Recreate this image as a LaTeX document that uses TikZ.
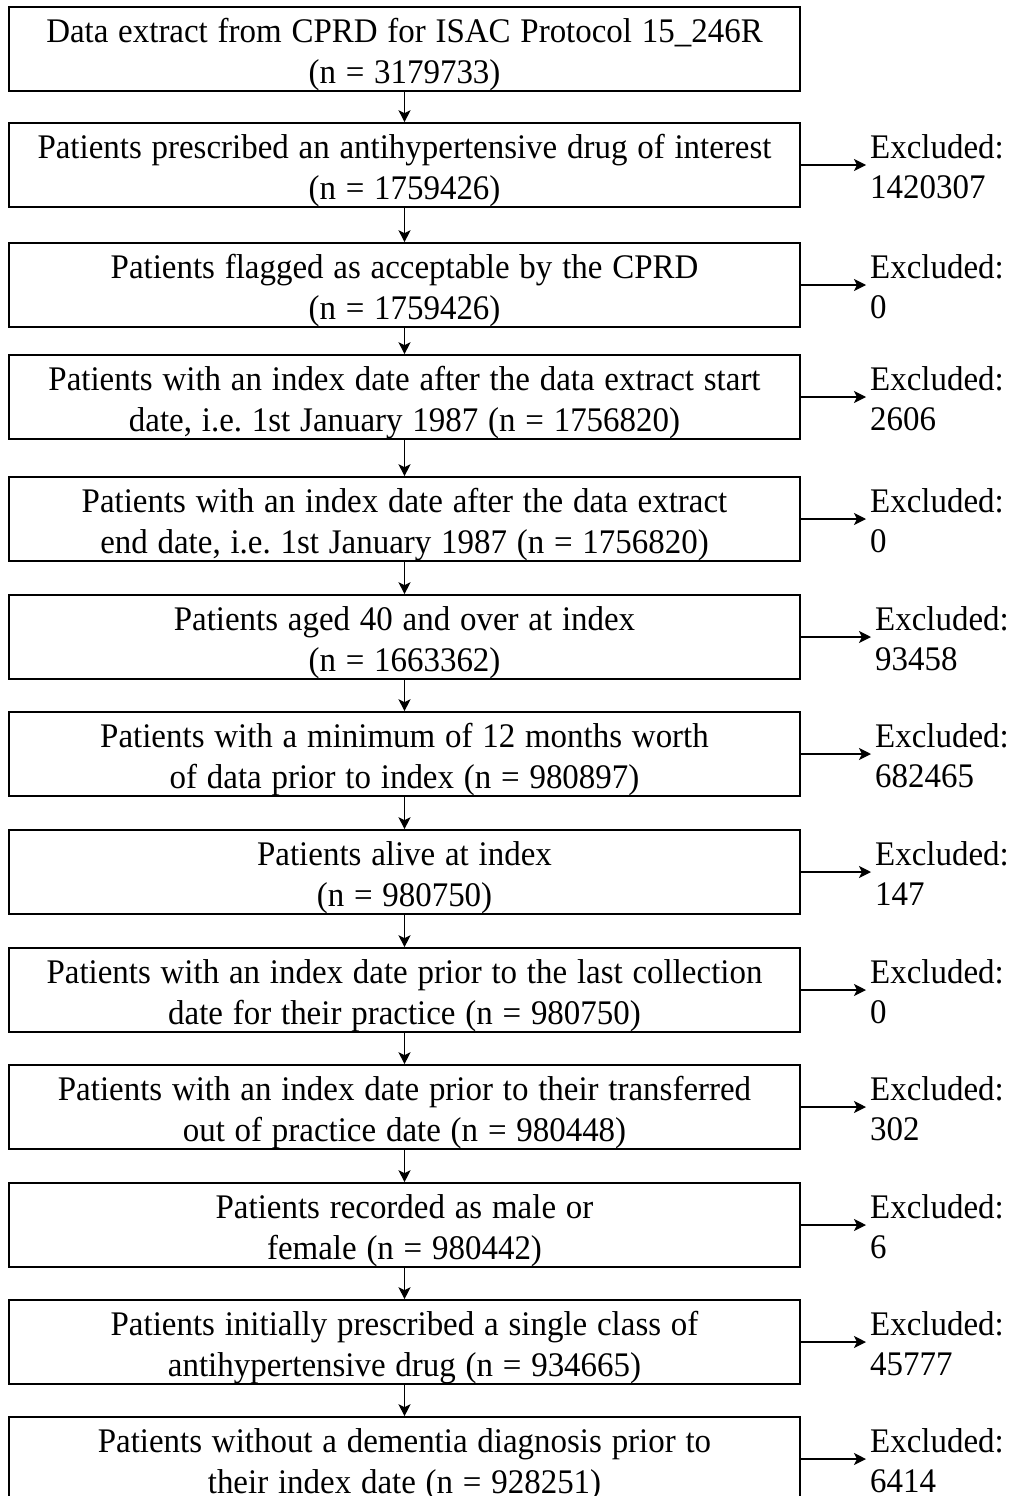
\documentclass[tikz,border=0pt]{standalone}
\usepackage{fontspec}
\setmainfont{Liberation Serif}[FakeStretch=0.955]
\frenchspacing
\usetikzlibrary{arrows.meta}

\tikzset{
  stagebox/.style={draw, line width=1.6pt, minimum width=791pt, minimum height=84pt,
    inner sep=0pt},
  stagetext/.style={inner sep=0pt, text width=785pt, align=flush center, yshift=-6pt,
    font=\fontsize{34.5}{41}\selectfont,
    execute at begin node={\spaceskip=9.8pt\relax}},
  exclnote/.style={anchor=west, inner sep=0pt, align=left,
    font=\fontsize{34.5}{40}\selectfont},
  flow/.style={line width=1.4pt, -{Stealth[length=12pt,width=12pt,inset=3pt]}}
}

\begin{document}
\begin{tikzpicture}[x=1pt,y=-1pt]
\useasboundingbox (0,0) rectangle (1013,1496);
\clip (0,0) rectangle (1013,1496);
\fill[white] (0,0) rectangle (1013,1496);

% selection stages: frames
\foreach \i/\y in {1/49,2/165,3/285,4/397,5/519,6/637,7/754,8/872,9/990,10/1107,11/1225,12/1342,13/1459}
  \node[stagebox] (b\i) at (404.5,\y) {};

% selection stages: wording
\node[stagetext] (t1)  at (b1)  {Data extract from CPRD for ISAC Protocol 15\_246R\\(n = 3179733)};
\node[stagetext] (t2)  at (b2)  {Patients prescribed an antihypertensive drug of interest\\(n = 1759426)};
\node[stagetext] (t3)  at (b3)  {Patients flagged as acceptable by the CPRD\\(n = 1759426)};
\node[stagetext] (t4)  at (b4)  {Patients with an index date after the data extract start\\date, i.e. 1st January 1987 (n = 1756820)};
\node[stagetext] (t5)  at (b5)  {Patients with an index date after the data extract\\end date, i.e. 1st January 1987 (n = 1756820)};
\node[stagetext] (t6)  at (b6)  {Patients aged 40 and over at index\\(n = 1663362)};
\node[stagetext] (t7)  at (b7)  {Patients with a minimum of 12 months worth\\of data prior to index (n = 980897)};
\node[stagetext] (t8)  at (b8)  {Patients alive at index\\(n = 980750)};
\node[stagetext] (t9)  at (b9)  {Patients with an index date prior to the last collection\\date for their practice (n = 980750)};
\node[stagetext] (t10) at (b10) {Patients with an index date prior to their transferred\\out of practice date (n = 980448)};
\node[stagetext] (t11) at (b11) {Patients recorded as male or\\female (n = 980442)};
\node[stagetext] (t12) at (b12) {Patients initially prescribed a single class of\\antihypertensive drug (n = 934665)};
\node[stagetext] (t13) at (b13) {Patients without a dementia diagnosis prior to\\their index date (n = 928251)};

% exclusion counts
\node[exclnote] (e2)  at (870,167)  {Excluded:\\1420307};
\node[exclnote] (e3)  at (870,287)  {Excluded:\\0};
\node[exclnote] (e4)  at (870,399)  {Excluded:\\2606};
\node[exclnote] (e5)  at (870,521)  {Excluded:\\0};
\node[exclnote] (e6)  at (875,639)  {Excluded:\\93458};
\node[exclnote] (e7)  at (875,756)  {Excluded:\\682465};
\node[exclnote] (e8)  at (875,874)  {Excluded:\\147};
\node[exclnote] (e9)  at (870,992)  {Excluded:\\0};
\node[exclnote] (e10) at (870,1109) {Excluded:\\302};
\node[exclnote] (e11) at (870,1227) {Excluded:\\6};
\node[exclnote] (e12) at (870,1344) {Excluded:\\45777};
\node[exclnote] (e13) at (870,1461) {Excluded:\\6414};

% downward flow
\foreach \a/\b in {b1/b2,b2/b3,b3/b4,b4/b5,b5/b6,b6/b7,b7/b8,b8/b9,b9/b10,b10/b11,b11/b12,b12/b13}
  \draw[flow] (\a.south) -- (\b.north);

% exclusion arrows
\foreach \i in {2,...,13}
  \draw[flow] (b\i.east) -- ([xshift=-4pt]b\i.east -| e\i.west);
\end{tikzpicture}
\end{document}
